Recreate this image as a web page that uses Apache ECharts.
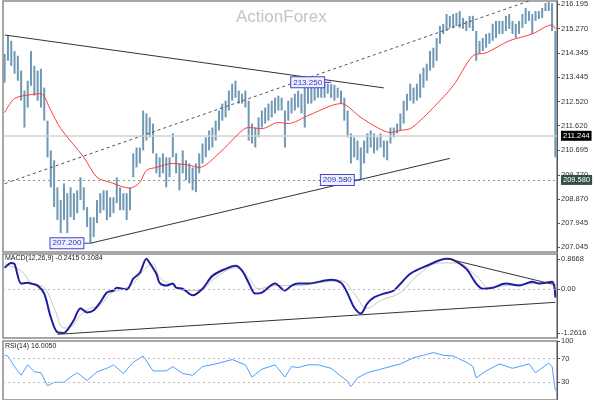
<!DOCTYPE html>
<html><head><meta charset="utf-8">
<script src="https://cdn.jsdelivr.net/npm/echarts@6/dist/echarts.min.js"></script>
<style>html,body{margin:0;padding:0;background:#fff}#c{width:600px;height:400px}</style>
</head><body><div id="c"></div>
<script>
// ---- price bars (high / low) ----
const barHigh = [214.32,215.03,214.81,214.43,214.25,213.69,212.94,213.31,214.43,213.87,
213.69,213.76,213.05,211.81,210.69,210.32,209.30,208.82,209.45,209.08,
209.30,209.08,209.19,209.68,209.30,208.56,208.18,208.18,208.82,209.08,
209.19,209.19,208.93,208.93,209.68,209.30,209.08,209.08,209.30,210.58,
210.80,210.80,212.19,212.08,211.93,211.70,210.58,210.43,210.58,210.43,
210.43,211.33,210.58,210.20,210.69,210.32,210.20,210.05,210.20,210.58,
210.95,211.18,211.44,211.55,211.81,212.19,212.45,212.56,212.94,213.20,
213.31,212.94,212.82,212.94,212.56,211.70,211.55,211.93,212.19,212.30,
212.45,212.56,212.67,212.75,212.67,212.19,212.56,212.67,212.82,212.94,
212.82,213.20,213.20,213.05,213.22,213.25,213.20,213.20,213.20,213.18,
213.15,213.05,212.94,212.67,212.19,211.33,211.18,211.06,210.80,211.06,
211.33,211.44,211.33,211.18,211.33,211.06,211.06,211.55,211.55,211.70,
212.08,212.56,212.82,213.20,213.05,213.20,213.57,213.80,213.95,214.43,
214.55,214.92,215.37,215.45,215.82,215.75,215.82,215.86,215.93,215.67,
215.56,215.75,215.75,215.18,214.81,214.92,215.07,215.11,215.45,215.56,
215.56,215.56,215.75,215.82,215.56,215.45,215.56,215.82,216.05,215.93,
215.82,215.93,215.93,216.05,216.23,216.27,216.23,215.18];
const barLow = [213.24,214.06,213.87,213.57,213.31,212.56,211.55,212.30,213.12,212.75,
212.56,212.30,211.81,210.43,209.30,208.56,208.07,207.58,208.07,207.58,
208.18,208.07,208.33,208.82,208.44,207.81,207.20,207.43,207.96,208.33,
208.44,208.07,208.18,208.33,208.71,208.44,208.44,208.07,208.44,209.68,
210.05,210.20,210.69,211.06,211.18,210.58,209.83,209.68,209.83,209.30,
209.68,210.43,209.83,209.19,209.83,209.57,209.45,209.19,209.12,209.83,
210.20,210.43,210.69,210.80,211.06,211.44,211.81,211.93,212.19,212.56,
212.67,212.45,212.45,212.30,211.06,210.95,210.80,211.18,211.55,211.70,
211.81,211.93,212.08,212.19,212.19,210.80,211.81,212.08,212.19,212.30,
212.08,211.55,212.45,212.45,212.56,212.67,212.67,212.67,212.82,212.67,
212.56,212.67,212.45,211.81,211.18,210.20,210.43,210.32,209.58,210.20,
210.58,210.80,210.58,210.69,210.80,210.43,210.32,210.95,211.18,211.33,
211.44,211.70,212.19,212.56,212.45,212.56,212.67,213.05,213.31,213.69,
213.80,214.06,214.70,215.07,215.18,215.30,215.30,215.37,215.30,215.26,
215.18,215.30,215.18,214.06,214.32,214.43,214.55,214.70,214.81,214.92,
215.07,215.07,215.18,215.26,215.07,214.92,215.07,215.30,215.45,215.56,
215.07,215.56,215.63,215.67,215.93,215.93,215.18,210.43];
const barIndex = barHigh.map((_, i) => String(i));

// ---- moving average (bar index, value) ----
const maPoints = [[0,212.11],[3,212.64],[8,212.79],[11,212.82],[14,212.19],[17,211.51],[24,210.43],
[28,209.68],[32,209.49],[38,209.27],[41,209.49],[43,209.94],[46,210.05],[51,210.20],[56,210.13],
[59,210.05],[65,210.58],[72,211.44],[74,211.55],[78,211.51],[83,211.74],[86,211.70],[92,212.00],
[99,212.37],[102,212.45],[108,211.93],[113,211.55],[117,211.36],[120,211.44],[123,211.51],
[126,211.81],[130,212.30],[136,213.12],[142,214.25],[146,214.36],[153,214.81],[160,215.07],
[166,215.41],[167,215.26]];

// ---- MACD (12,26,9) ----
const macdPoints = [[0,0.61],[2,0.75],[3,0.72],[5,0.16],[7,0.18],[8,0.16],[10,0.10],[12,-0.13],
[14,-0.81],[16,-1.24],[18,-1.26],[19,-1.18],[21,-0.89],[23,-0.55],[25,-0.67],[27,-0.61],[29,-0.38],
[31,-0.10],[33,-0.04],[34,0.04],[37,-0.01],[39,0.30],[41,0.47],[43,0.87],[44,0.75],[46,0.44],
[47,0.18],[49,0.10],[51,0.16],[52,0.04],[54,0.01],[57,-0.18],[60,0.01],[63,0.38],[67,0.58],
[70,0.67],[72,0.53],[74,0.18],[76,-0.13],[78,-0.10],[82,0.16],[85,-0.04],[87,0.10],[89,0.16],
[92,0.16],[99,0.27],[102,0.18],[104,-0.13],[106,-0.53],[108,-0.70],[110,-0.41],[112,-0.24],
[115,-0.13],[118,-0.04],[123,0.44],[128,0.67],[134,0.87],[136,0.84],[140,0.58],[143,0.16],
[145,0.01],[148,0.04],[152,0.16],[156,0.10],[160,0.21],[162,0.16],[166,0.21],[167,-0.2415]];
const signalPoints = [[0,0.70],[5,0.53],[8,0.18],[12,0.04],[15,-0.53],[18,-1.12],[20,-1.09],[23,-0.75],
[26,-0.55],[29,-0.47],[32,-0.13],[36,0.01],[39,0.16],[42,0.53],[45,0.72],[47,0.33],[50,0.16],
[55,-0.04],[59,-0.04],[64,0.33],[70,0.61],[74,0.33],[77,0.01],[82,0.10],[89,0.10],[95,0.18],
[102,0.24],[106,-0.13],[110,-0.55],[114,-0.33],[120,-0.10],[125,0.38],[132,0.75],[137,0.75],
[143,0.38],[147,0.04],[152,0.10],[160,0.16],[166,0.18],[167,0.1084]];

// ---- RSI(14) ----
const rsiPoints = [[0,75.9],[1,74.4],[3,56.7],[5,41.9],[7,59.6],[9,47.8],[11,46.3],[13,24.1],[15,30.0],
[18,30.0],[20,38.9],[22,46.3],[25,33.0],[28,47.8],[31,53.7],[33,59.6],[36,44.8],[39,64.1],[42,74.4],
[45,49.3],[49,49.3],[51,56.7],[54,44.8],[57,41.9],[60,56.7],[64,61.1],[69,68.5],[73,59.6],[75,38.9],
[78,52.2],[82,59.6],[85,38.9],[87,56.7],[89,55.0],[92,59.6],[95,59.6],[99,53.7],[104,31.5],[105,22.6],
[107,37.4],[110,46.3],[114,52.2],[120,61.1],[124,71.5],[127,75.9],[130,80.4],[133,75.9],[136,74.4],
[140,64.1],[142,56.7],[143,37.4],[146,49.3],[150,61.1],[154,53.7],[159,61.1],[161,46.3],[165,62.6],
[166,56.7],[167,16.005]];

// ---- axis ticks ----
const priceTicks = [216.195,215.270,214.345,213.445,212.520,211.620,210.695,209.770,208.870,207.945,207.045];
const macdTicks = [0.8668, 0, -1.2616];
const rsiTicks = [100, 70, 30];

// ---- levels, pivots, trend lines ----
const lastPrice = 211.244;
const supportLevel = 209.580;
const pivots = [[99, 213.250, '213.250'], [108, 209.580, '209.580'], [26, 207.200, '207.200']];
const trendUpperPrice = [[0, 215.03], [115, 213.04]];
const trendChannelPrice = [[0, 209.44], [159, 216.31]];
const trendLowerPrice = [[26, 207.20], [135, 210.39]];
const trendMacdLow = [[16, -1.30], [167, -0.38]];
const trendMacdHigh = [[134, 0.88], [167, 0.12]];

const FONT = 'Liberation Sans';
const axisCommon = (ticks, fmt) => ({
  type: 'value', position: 'right', scale: true,
  splitLine: { show: false },
  axisLine: { show: true, lineStyle: { color: '#555', width: 1 } },
  axisTick: { show: true, length: 3, lineStyle: { color: '#555' }, customValues: ticks },
  axisLabel: { fontSize: 7.5, color: '#333', margin: 4, fontFamily: FONT, customValues: ticks, formatter: fmt }
});
const xCommon = (gi) => ({ type: 'category', data: barIndex, gridIndex: gi, boundaryGap: true, show: false });
const tl = (data, xi, color, type) => ({
  type: 'line', data, xAxisIndex: xi, yAxisIndex: xi, showSymbol: false, silent: true,
  lineStyle: { color, width: 1, type: type || 'solid' }, z: 4
});

const chart = echarts.init(document.getElementById('c'));
chart.setOption({
  animation: false,
  backgroundColor: '#fff',
  grid: [
    { left: 3, right: 43, top: 0, height: 252, show: true, borderColor: '#8a8a8a', borderWidth: 1.5 },
    { left: 3, right: 43, top: 254, height: 84, show: true, borderColor: '#8a8a8a', borderWidth: 1.5 },
    { left: 3, right: 43, top: 341, height: 67.5, show: true, borderColor: '#8a8a8a', borderWidth: 1.5 }
  ],
  xAxis: [xCommon(0), xCommon(1), xCommon(2)],
  yAxis: [
    Object.assign(axisCommon(priceTicks, v => v.toFixed(3)), { gridIndex: 0, min: 206.87, max: 216.307 }),
    Object.assign(axisCommon(macdTicks, v => (v === 0 ? '0.00' : v.toFixed(4))), { gridIndex: 1, min: -1.406, max: 1.009 }),
    Object.assign(axisCommon(rsiTicks, v => String(v)), { gridIndex: 2, min: 0, max: 100, scale: false })
  ],
  graphic: [
    { type: 'text', left: 236, top: 9, silent: true, z: 0,
      style: { text: 'ActionForex', fontSize: 17, fontFamily: FONT, fill: '#c4c4c4' } },
    { type: 'text', left: 5, top: 255, silent: true, z: 10,
      style: { text: 'MACD(12,26,9) -0.2415 0.1084', fontSize: 7, fontFamily: FONT, fill: '#222' } },
    { type: 'text', left: 5, top: 343, silent: true, z: 10,
      style: { text: 'RSI(14) 16.0050', fontSize: 7, fontFamily: FONT, fill: '#222' } }
  ],
  series: [
    {
      type: 'custom', xAxisIndex: 0, yAxisIndex: 0, z: 3,
      data: barIndex.map((c, i) => [i, barHigh[i], barLow[i]]),
      encode: { x: 0, y: [1, 2] },
      renderItem: (params, api) => {
        const t = api.coord([api.value(0), api.value(1)]);
        const b = api.coord([api.value(0), api.value(2)]);
        return { type: 'rect', shape: { x: t[0] - 1, y: t[1], width: 2, height: Math.max(1, b[1] - t[1]) },
          style: { fill: '#6f98b4' } };
      }
    },
    {
      type: 'line', data: maPoints, xAxisIndex: 0, yAxisIndex: 0, showSymbol: false, smooth: 0.3, z: 5,
      lineStyle: { color: '#ff3b3b', width: 1 },
      markLine: {
        silent: true, symbol: 'none', animation: false,
        label: { position: 'end', distance: 4, fontSize: 7.5, fontFamily: FONT, padding: [1, 2] },
        data: [
          { yAxis: lastPrice, lineStyle: { color: '#d2d2d2', width: 1.5, type: 'solid' },
            label: { formatter: '211.244', color: '#fff', backgroundColor: '#000' } },
          { yAxis: supportLevel, lineStyle: { color: '#7f9a8c', width: 1, type: [2, 3] },
            label: { formatter: '209.580', color: '#fff', backgroundColor: '#34504a' } }
        ]
      },
      markPoint: {
        silent: true, symbol: 'rect', symbolSize: [7, 1], symbolOffset: [-3.5, 0],
        itemStyle: { color: '#3b3bc8' },
        label: { show: true, position: 'left', distance: 0, fontSize: 8, fontFamily: FONT, color: '#3434b4',
          backgroundColor: '#eef0ff', borderColor: '#4444cc', borderWidth: 1, padding: [1, 2],
          formatter: p => p.name },
        data: pivots.map(p => ({ coord: [p[0], p[1]], name: p[2] }))
      }
    },
    tl(trendUpperPrice, 0, '#333'),
    tl(trendChannelPrice, 0, '#555', [3, 3]),
    tl(trendLowerPrice, 0, '#333'),
    {
      type: 'line', data: signalPoints, xAxisIndex: 1, yAxisIndex: 1, showSymbol: false, smooth: 0.4, z: 3,
      lineStyle: { color: '#c6c6c6', width: 1 },
      markLine: { silent: true, symbol: 'none', label: { show: false },
        lineStyle: { color: '#bbb', type: [2, 3], width: 1 }, data: [{ yAxis: 0 }] }
    },
    {
      type: 'line', data: macdPoints, xAxisIndex: 1, yAxisIndex: 1, showSymbol: false, smooth: 0.3, z: 4,
      lineStyle: { color: '#1f1f9e', width: 2 }
    },
    tl(trendMacdLow, 1, '#333'),
    tl(trendMacdHigh, 1, '#333'),
    {
      type: 'line', data: rsiPoints, xAxisIndex: 2, yAxisIndex: 2, showSymbol: false, z: 4,
      lineStyle: { color: '#4aa0ff', width: 1 },
      markLine: { silent: true, symbol: 'none', label: { show: false },
        lineStyle: { color: '#bbb', type: [2, 3], width: 1 }, data: [{ yAxis: 70 }, { yAxis: 30 }] }
    }
  ]
});
</script></body></html>
